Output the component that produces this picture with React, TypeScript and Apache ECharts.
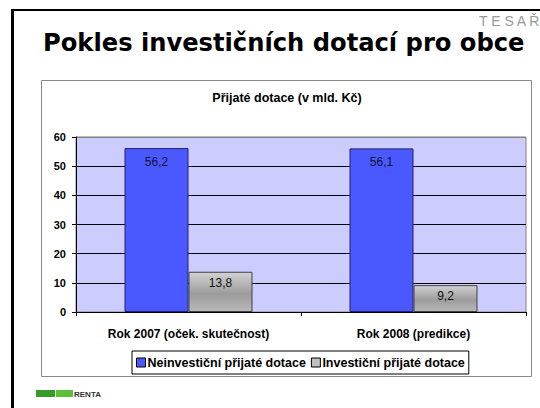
import React, { useEffect, useRef } from "react";
import * as echarts from "echarts";

const categories = ["Rok 2007 (oček. skutečnost)", "Rok 2008 (predikce)"];
const seriesNames = ["Neinvestiční přijaté dotace", "Investiční přijaté dotace"];
const nonInvestment = [56.2, 56.1];
const investment = [13.8, 9.2];
const yMin = 0;
const yMax = 60;
const yStep = 10;

const FONT = "'Liberation Sans', Arial, sans-serif";
const WIDE = "'DejaVu Sans', Verdana, sans-serif";

export default function App() {
  const ref = useRef<HTMLDivElement>(null);
  useEffect(() => {
    document.body.style.margin = "0";
    const chart = echarts.init(ref.current!, undefined, { renderer: "svg" });
    const fmt = (p: any) => String(p.value).replace(".", ",");
    const grayGrad = new echarts.graphic.LinearGradient(0, 0, 0, 1, [
      { offset: 0, color: "#d2d2d2" },
      { offset: 0.55, color: "#9c9c9c" },
      { offset: 1, color: "#b8b8b8" },
    ]);
    chart.setOption({
      animation: false,
      backgroundColor: "#ffffff",
      textStyle: { fontFamily: FONT },
      graphic: [
        { type: "rect", z: -10, shape: { x: 11, y: 9, width: 3, height: 400 }, style: { fill: "#000" } },
        { type: "rect", z: -10, shape: { x: 11, y: 9, width: 530, height: 2 }, style: { fill: "#000" } },
        {
          type: "text",
          x: 479,
          y: 21,
          style: { text: "T E S A Ř", font: `14px ${FONT}`, fill: "#999999", textVerticalAlign: "middle" },
        },
        {
          type: "text",
          x: 43,
          y: 43,
          style: {
            text: "Pokles investičních dotací pro obce",
            font: `bold 24.2px ${WIDE}`,
            fill: "#000",
            textVerticalAlign: "middle",
          },
        },
        {
          type: "rect",
          z: -5,
          shape: { x: 41.5, y: 80.5, width: 490, height: 296 },
          style: { fill: "#fff", stroke: "#8a8a8a", lineWidth: 1 },
        },
        {
          type: "text",
          x: 287,
          y: 98,
          style: {
            text: "Přijaté dotace (v mld. Kč)",
            font: `bold 12.5px ${FONT}`,
            fill: "#000",
            textAlign: "center",
            textVerticalAlign: "middle",
          },
        },
        { type: "rect", shape: { x: 36, y: 390, width: 19, height: 7 }, style: { fill: "#3a9a2a" } },
        { type: "rect", shape: { x: 56, y: 390, width: 17, height: 7 }, style: { fill: "#5cbf3a" } },
        {
          type: "text",
          x: 74,
          y: 394,
          style: { text: "RENTA", font: `bold 8px ${FONT}`, fill: "#333", textVerticalAlign: "middle" },
        },
      ],
      grid: {
        left: 76,
        top: 137,
        width: 450,
        height: 175,
        show: true,
        backgroundColor: "#ccccff",
        borderColor: "#808080",
        borderWidth: 1,
      },
      legend: {
        left: 132,
        top: 351,
        orient: "horizontal",
        borderColor: "#000",
        borderWidth: 1,
        padding: [5, 4, 5, 4],
        itemGap: 5,
        itemWidth: 9,
        itemHeight: 9,
        icon: "rect",
        textStyle: { fontFamily: FONT, fontSize: 12.5, fontWeight: "bold", color: "#000", padding: [0, 0, 0, -3] },
        data: [
          { name: seriesNames[0], itemStyle: { color: "#4a58ff", borderColor: "#000", borderWidth: 1 } },
          { name: seriesNames[1], itemStyle: { color: "#c0c0c0", borderColor: "#000", borderWidth: 1 } },
        ],
      },
      xAxis: {
        type: "category",
        data: categories,
        axisLine: { show: true, lineStyle: { color: "#000", width: 1 } },
        axisTick: { show: true, length: 4, lineStyle: { color: "#000" } },
        axisLabel: { fontFamily: FONT, fontSize: 12, fontWeight: "bold", color: "#000", margin: 16 },
      },
      yAxis: {
        type: "value",
        min: yMin,
        max: yMax,
        interval: yStep,
        axisLine: { show: true, lineStyle: { color: "#000", width: 1 } },
        axisTick: { show: true, length: 4, lineStyle: { color: "#000" } },
        axisLabel: { fontFamily: FONT, fontSize: 11, fontWeight: "bold", color: "#000", margin: 10 },
        splitLine: {
          show: true,
          lineStyle: { color: ["#000", "#000", "#000", "#000", "#000", "#000", "#808080"], width: 1 },
        },
      },
      series: [
        {
          name: seriesNames[0],
          type: "bar",
          data: nonInvestment,
          barWidth: 64,
          barGap: "0%",
          itemStyle: { color: "#4a58ff", borderColor: "#22226a", borderWidth: 1 },
          label: {
            show: true,
            position: "insideTop",
            distance: 8,
            formatter: fmt,
            fontFamily: FONT,
            fontSize: 12,
            color: "#111133",
          },
        },
        {
          name: seriesNames[1],
          type: "bar",
          data: investment,
          barWidth: 64,
          barGap: "0%",
          itemStyle: { color: grayGrad, borderColor: "#404040", borderWidth: 1 },
          label: {
            show: true,
            position: "insideTop",
            distance: 5,
            formatter: fmt,
            fontFamily: FONT,
            fontSize: 12,
            color: "#111",
          },
        },
      ],
    });
    return () => chart.dispose();
  }, []);
  return <div ref={ref} style={{ position: "absolute", left: 0, top: 0, width: 540, height: 408 }} />;
}
